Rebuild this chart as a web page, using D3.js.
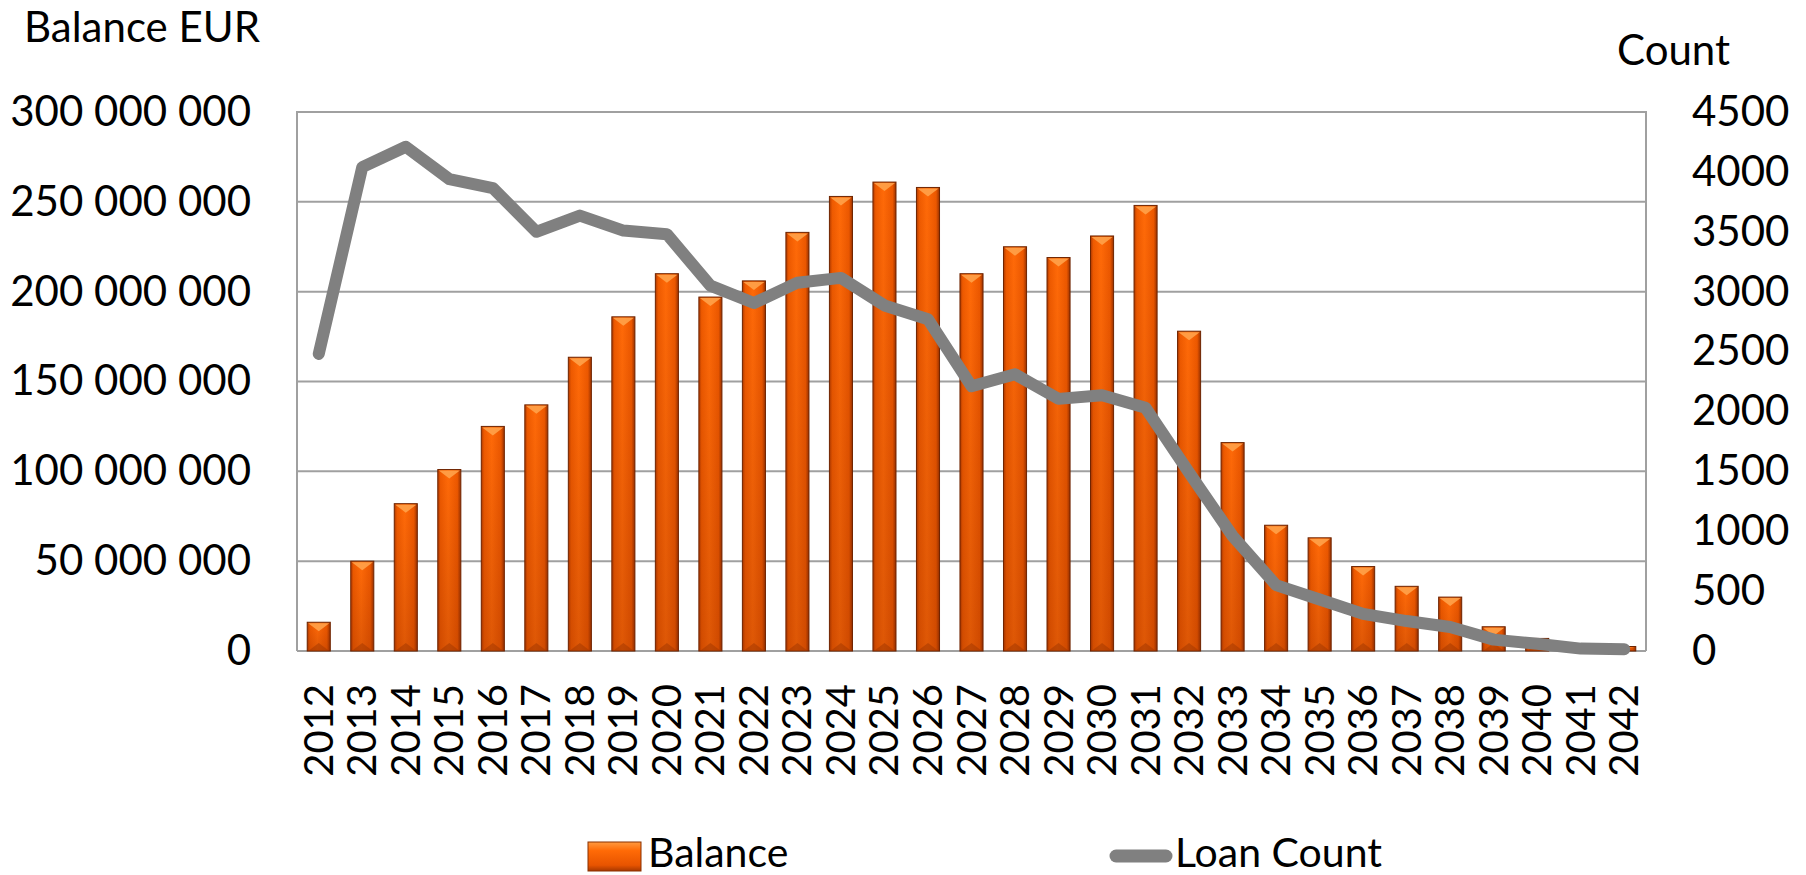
<!DOCTYPE html>
<html>
<head>
<meta charset="utf-8">
<script src="https://cdnjs.cloudflare.com/ajax/libs/d3/7.8.5/d3.min.js"></script>
<style>
  body { margin: 0; background: #fff; }
  text { font-family: Lato, "Open Sans", sans-serif; fill: #000; }
</style>
</head>
<body>
<svg id="chart" width="1806" height="875"></svg>
<script>
// chart data
var years = ["2012", "2013", "2014", "2015", "2016", "2017", "2018", "2019", "2020", "2021",
    "2022", "2023", "2024", "2025", "2026", "2027", "2028", "2029", "2030", "2031",
    "2032", "2033", "2034", "2035", "2036", "2037", "2038", "2039", "2040", "2041", "2042"];
var balance = [16e6, 50e6, 82e6, 101e6, 125e6, 137e6, 163.5e6, 186e6, 210e6, 197e6,
    206e6, 233e6, 253e6, 261e6, 258e6, 210e6, 225e6, 219e6, 231e6, 248e6,
    178e6, 116e6, 70e6, 63e6, 47e6, 36e6, 30e6, 13.5e6, 7e6, 1e6, 2.5e6];
var loanCount = [2480, 4040, 4210, 3940, 3865, 3500, 3635, 3510, 3480, 3050,
    2905, 3075, 3115, 2885, 2770, 2210, 2310, 2105, 2135, 2030,
    1490, 960, 550, 430, 310, 250, 200, 95, 60, 20, 15];
var balanceTicks = [0, 50e6, 100e6, 150e6, 200e6, 250e6, 300e6];
var countTicks = [0, 500, 1000, 1500, 2000, 2500, 3000, 3500, 4000, 4500];

var svg = d3.select("#chart"),
    margin = {left: 297, right: 160, top: 112, bottom: 224},
    width = +svg.attr("width") - margin.left - margin.right,
    height = +svg.attr("height") - margin.top - margin.bottom;

var x = d3.scaleBand().domain(years)
    .range([margin.left, margin.left + width])
    .paddingInner(0.47).paddingOuter(0.235);
var yBal = d3.scaleLinear().domain([0, 300e6]).range([margin.top + height, margin.top]);
var yCnt = d3.scaleLinear().domain([0, 4500]).range([margin.top + height, margin.top]);

var spaced = function (v) { return d3.format(",")(v).replace(/,/g, " "); };

// gradients for the bevelled bars
var defs = svg.append("defs");
var g1 = defs.append("linearGradient").attr("id", "barFill")
    .attr("x1", "0").attr("x2", "1").attr("y1", "0").attr("y2", "0");
g1.append("stop").attr("offset", "0").attr("stop-color", "#B03A00");
g1.append("stop").attr("offset", "0.12").attr("stop-color", "#EE5A00");
g1.append("stop").attr("offset", "0.45").attr("stop-color", "#FF6A08");
g1.append("stop").attr("offset", "0.85").attr("stop-color", "#EC5800");
g1.append("stop").attr("offset", "1").attr("stop-color", "#9A3200");
var g2 = defs.append("linearGradient").attr("id", "barShade")
    .attr("x1", "0").attr("x2", "0").attr("y1", "0").attr("y2", "1");
g2.append("stop").attr("offset", "0").attr("stop-color", "#7A2000").attr("stop-opacity", 0);
g2.append("stop").attr("offset", "1").attr("stop-color", "#7A2000").attr("stop-opacity", 0.25);
var g3 = defs.append("linearGradient").attr("id", "legFill")
    .attr("x1", "0").attr("x2", "0").attr("y1", "0").attr("y2", "1");
g3.append("stop").attr("offset", "0").attr("stop-color", "#FF9A40");
g3.append("stop").attr("offset", "0.3").attr("stop-color", "#FF6A06");
g3.append("stop").attr("offset", "0.8").attr("stop-color", "#E85400");
g3.append("stop").attr("offset", "1").attr("stop-color", "#A83800");

// gridlines
svg.append("g").selectAll("line").data(balanceTicks).enter().append("line")
    .attr("x1", margin.left).attr("x2", margin.left + width)
    .attr("y1", d => yBal(d)).attr("y2", d => yBal(d))
    .style("stroke", "#A0A0A0").style("stroke-width", 2);

// plot border
svg.append("path")
    .attr("d", "M" + margin.left + "," + (margin.top + height) + "V" + margin.top +
        "H" + (margin.left + width) + "V" + (margin.top + height))
    .style("fill", "none").style("stroke", "#A0A0A0").style("stroke-width", 2);

// left axis labels
svg.append("g").selectAll("text").data(balanceTicks).enter().append("text")
    .attr("x", 251).attr("y", d => yBal(d)).attr("dy", "0.33em")
    .attr("text-anchor", "end").style("font-size", "42px")
    .text(d => spaced(d));

// right axis labels
svg.append("g").selectAll("text").data(countTicks).enter().append("text")
    .attr("x", 1692).attr("y", d => yCnt(d)).attr("dy", "0.33em")
    .attr("text-anchor", "start").style("font-size", "42px")
    .text(d => d);

// axis titles
svg.append("text").attr("x", 24).attr("y", 42).style("font-size", "42px").text("Balance EUR");
svg.append("text").attr("x", 1617).attr("y", 65).style("font-size", "42px").text("Count");

// x labels, rotated
svg.append("g").selectAll("text").data(years).enter().append("text")
    .attr("transform", d => "translate(" + (x(d) + x.bandwidth() / 2) + ",684) rotate(-90)")
    .attr("dy", "0.35em").attr("text-anchor", "end").style("font-size", "40px")
    .text(d => d);

// bars
var bw = x.bandwidth();
var bars = svg.append("g").selectAll("g").data(years).enter().append("g");
bars.append("rect")
    .attr("x", d => x(d)).attr("y", (d, i) => yBal(balance[i]))
    .attr("width", bw).attr("height", (d, i) => yBal(0) - yBal(balance[i]))
    .style("fill", "url(#barFill)").style("stroke", "#6E2400").style("stroke-width", 1);
bars.append("rect")
    .attr("x", d => x(d)).attr("y", (d, i) => yBal(balance[i]))
    .attr("width", bw).attr("height", (d, i) => yBal(0) - yBal(balance[i]))
    .style("fill", "url(#barShade)");
// light bevel on top
bars.append("path")
    .attr("d", function (d, i) {
        var x0 = x(d), top = yBal(balance[i]), h = Math.min(9, (yBal(0) - top) / 2);
        return "M" + (x0 + 1) + "," + (top + 1) + "H" + (x0 + bw - 1) +
            "L" + (x0 + bw / 2) + "," + (top + h) + "Z";
    })
    .style("fill", "#FFA24A").style("opacity", 0.9);
// dark bevel on bottom
bars.append("path")
    .attr("d", function (d, i) {
        var x0 = x(d), bot = yBal(0), h = Math.min(8, (bot - yBal(balance[i])) / 2);
        return "M" + (x0 + 1) + "," + bot + "H" + (x0 + bw - 1) +
            "L" + (x0 + bw / 2) + "," + (bot - h) + "Z";
    })
    .style("fill", "#9A3200").style("opacity", 0.45);

// loan count line
var line = d3.line()
    .x((d, i) => x(years[i]) + bw / 2)
    .y(d => yCnt(d));
svg.append("path").datum(loanCount)
    .attr("d", line)
    .style("fill", "none").style("stroke", "#808080").style("stroke-width", 12)
    .style("stroke-linejoin", "round").style("stroke-linecap", "round");

// legend
svg.append("rect").attr("x", 588).attr("y", 842).attr("width", 53).attr("height", 29)
    .style("fill", "url(#legFill)").style("stroke", "#8A3000").style("stroke-width", 1);
svg.append("text").attr("x", 648).attr("y", 867).style("font-size", "41px").text("Balance");
svg.append("line").attr("x1", 1116).attr("x2", 1166).attr("y1", 856).attr("y2", 856)
    .style("stroke", "#808080").style("stroke-width", 13).style("stroke-linecap", "round");
svg.append("text").attr("x", 1175).attr("y", 867).style("font-size", "41px").text("Loan Count");
</script>
</body>
</html>
